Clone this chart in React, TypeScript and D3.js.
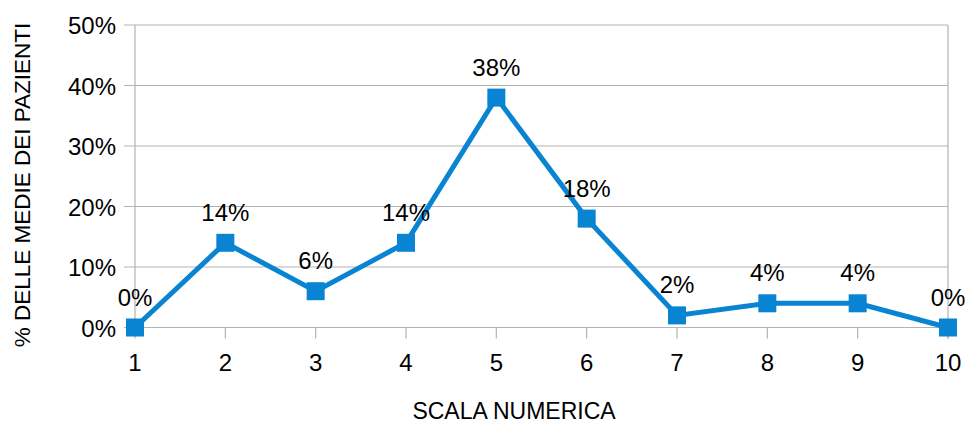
import React from "react";
import * as d3 from "d3";

const categories = [1, 2, 3, 4, 5, 6, 7, 8, 9, 10];
const values = [0, 14, 6, 14, 38, 18, 2, 4, 4, 0];
const yTicks = [0, 10, 20, 30, 40, 50];

const W = 967;
const H = 423;
const COLOR = "#0984d2";
const GRID = "#b3b3b3";
const FONT = "'Liberation Sans', Arial, sans-serif";

export default function App() {
  const x = d3.scaleLinear().domain([1, 10]).range([135, 948]);
  const y = d3.scaleLinear().domain([0, 50]).range([327.5, 25]);
  const line = d3
    .line<number>()
    .x((_, i) => x(categories[i]))
    .y((d) => y(d));
  const ms = 18;
  return (
    <svg
      width={W}
      height={H}
      style={{ position: "absolute", left: 0, top: 0, background: "#fff" }}
      fontFamily={FONT}
    >
      {yTicks.map((t) => (
        <g key={t}>
          <line x1={124} x2={948} y1={y(t)} y2={y(t)} stroke={GRID} strokeWidth={1.2} />
          <text x={116} y={y(t) + 9} textAnchor="end" fontSize={24} fill="#000">
            {t}%
          </text>
        </g>
      ))}
      <line x1={135} x2={135} y1={y(50)} y2={y(0)} stroke={GRID} strokeWidth={1.2} />
      <line x1={948} x2={948} y1={y(50)} y2={y(0) + 11} stroke={GRID} strokeWidth={1.2} />
      {categories.map((c) => (
        <g key={c}>
          <line x1={x(c)} x2={x(c)} y1={y(0)} y2={y(0) + 11} stroke={GRID} strokeWidth={1.2} />
          <text x={x(c)} y={371} textAnchor="middle" fontSize={24} fill="#000">
            {c}
          </text>
        </g>
      ))}
      <path d={line(values) || ""} fill="none" stroke={COLOR} strokeWidth={5} strokeLinejoin="miter" />
      {values.map((v, i) => (
        <rect
          key={i}
          x={x(categories[i]) - ms / 2}
          y={y(v) - ms / 2}
          width={ms}
          height={ms}
          fill={COLOR}
        />
      ))}
      {values.map((v, i) => (
        <text
          key={"l" + i}
          x={x(categories[i])}
          y={y(v) - 22}
          textAnchor="middle"
          fontSize={24}
          fill="#000"
        >
          {v}%
        </text>
      ))}
      <text x={514} y={419} textAnchor="middle" fontSize={23} fill="#000">
        SCALA NUMERICA
      </text>
      <text
        transform={`translate(30,185) rotate(-90)`}
        textAnchor="middle"
        fontSize={22.5}
        fill="#000"
      >
        % DELLE MEDIE DEI PAZIENTI
      </text>
    </svg>
  );
}
